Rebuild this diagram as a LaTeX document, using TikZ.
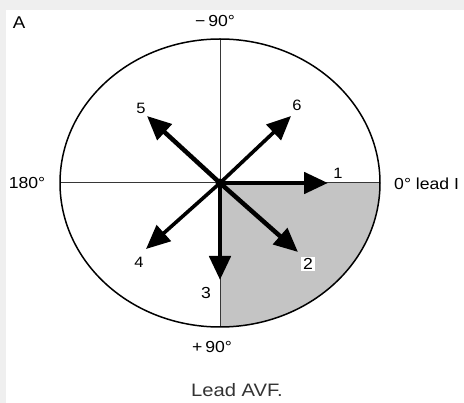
\documentclass[tikz,border=0pt]{standalone}
\usepackage{fontspec}
\setmainfont{Liberation Sans}
\usetikzlibrary{arrows.meta}
\definecolor{bggray}{RGB}{239,239,239}
\definecolor{quadgray}{RGB}{196,196,196}
\definecolor{axis}{RGB}{55,55,55}
\tikzset{
  lbl/.style={font=\fontsize{16}{19}\selectfont, xscale=1.1, inner sep=0pt, text=black},
  num/.style={font=\fontsize{15}{17}\selectfont, xscale=1.1, inner sep=0pt},
  vec/.style={line width=#1, -{Triangle[length=24pt,width=21pt]}},
}
\begin{document}
\begin{tikzpicture}[x=1pt,y=-1pt]
\useasboundingbox (0,0) rectangle (464,403);
\fill[bggray] (0,0) rectangle (464,403);
\fill[white] (6,10) rectangle (464,403);
% centre
\coordinate (O) at (220,183);
% shaded quadrant
\begin{scope}
  \clip (O) rectangle (381,330);
  \fill[quadgray] (O) ellipse [x radius=160, y radius=144];
\end{scope}
% axes
\coordinate (L) at (60,183);
\coordinate (R) at (380,183);
\coordinate (T) at (220,39);
\coordinate (B) at (220,327);
\draw[axis, line width=1pt] (L) -- (R);
\draw[axis, line width=1pt] (T) -- (B);
% ellipse
\draw[line width=1.5pt] (O) ellipse [x radius=160, y radius=144];
% vector tips
\coordinate (t1) at (328,183);
\coordinate (t2) at (298,252);
\coordinate (t3) at (220,280);
\coordinate (t4) at (146,249);
\coordinate (t5) at (147,116);
\coordinate (t6) at (291,116);
\draw[vec=4.8pt] (O) -- (t1);
\draw[vec=4.5pt] (O) -- (t2);
\draw[vec=4.8pt] (O) -- (t3);
\draw[vec=3.6pt] (O) -- (t4);
\draw[vec=4.5pt] (O) -- (t5);
\draw[vec=3.6pt] (O) -- (t6);
\fill (O) circle (4.5pt);
% vector labels
\node[num] (n1) at (338,173) {1};
\node[num, font=\fontsize{16}{18}\selectfont, fill=white, inner sep=1.5pt] (n2) at (308,264) {2};
\node[num, font=\fontsize{16}{18}\selectfont] (n3) at (206,293) {3};
\node[num] (n4) at (139,262) {4};
\node[num] (n5) at (141,108) {5};
\node[num] (n6) at (297,105) {6};
% axis labels
\node[lbl] (top) at (215,21) {−\,90°};
\node[lbl] (left) at (27,183) {180°};
\node[lbl, anchor=west] (right) at (394,184) {0° lead I};
\node[lbl] (bottom) at (212,347) {+\,90°};
\node[lbl, font=\fontsize{18}{21}\selectfont, xscale=1.02, text=black!80] (cap) at (237,390) {Lead AVF.};
\node[lbl, font=\fontsize{17}{20}\selectfont] (A) at (19,23) {A};
\end{tikzpicture}
\end{document}
